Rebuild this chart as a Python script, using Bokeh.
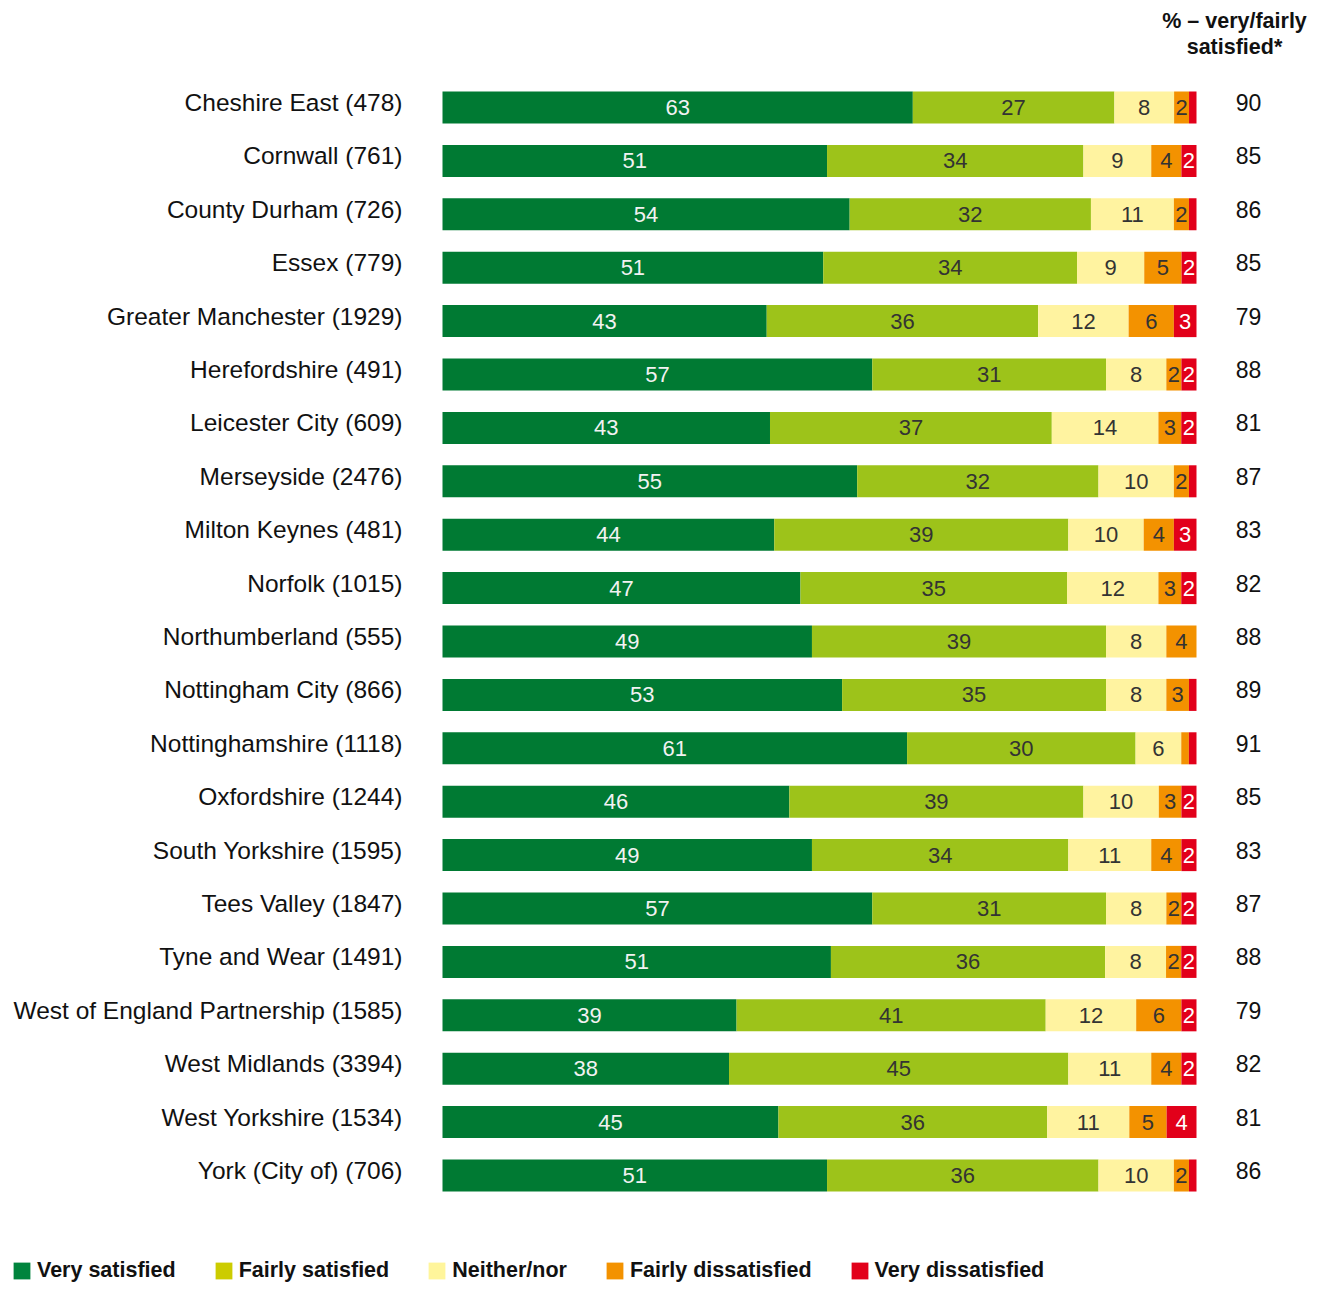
from bokeh.plotting import figure
from bokeh.models import ColumnDataSource, Range1d, Legend, LegendItem
from bokeh.core.properties import value
from bokeh.embed import file_html
from bokeh.resources import INLINE

regions = ["Cheshire East", "Cornwall", "County Durham", "Essex", "Greater Manchester",
           "Herefordshire", "Leicester City", "Merseyside", "Milton Keynes", "Norfolk",
           "Northumberland", "Nottingham City", "Nottinghamshire", "Oxfordshire",
           "South Yorkshire", "Tees Valley", "Tyne and Wear", "West of England Partnership",
           "West Midlands", "West Yorkshire", "York (City of)"]
sample = [478, 761, 726, 779, 1929, 491, 609, 2476, 481, 1015, 555, 866, 1118, 1244,
          1595, 1847, 1491, 1585, 3394, 1534, 706]
very_sat = [63, 51, 54, 51, 43, 57, 43, 55, 44, 47, 49, 53, 61, 46, 49, 57, 51, 39, 38, 45, 51]
fairly_sat = [27, 34, 32, 34, 36, 31, 37, 32, 39, 35, 39, 35, 30, 39, 34, 31, 36, 41, 45, 36, 36]
neither = [8, 9, 11, 9, 12, 8, 14, 10, 10, 12, 8, 8, 6, 10, 11, 8, 8, 12, 11, 11, 10]
fairly_dis = [2, 4, 2, 5, 6, 2, 3, 2, 4, 3, 4, 3, 1, 3, 4, 2, 2, 6, 4, 5, 2]
very_dis = [1, 2, 1, 2, 3, 2, 2, 1, 3, 2, 0, 1, 1, 2, 2, 2, 2, 2, 2, 4, 1]
total_sat = [90, 85, 86, 85, 79, 88, 81, 87, 83, 82, 88, 89, 91, 85, 83, 87, 88, 79, 82, 81, 86]

series = [very_sat, fairly_sat, neither, fairly_dis, very_dis]
series_names = ["Very satisfied", "Fairly satisfied", "Neither/nor",
                "Fairly dissatisfied", "Very dissatisfied"]
bar_colors = ["#007A33", "#9DC31A", "#FFF3A0", "#F39200", "#E2001A"]
legend_colors = ["#00843D", "#CCCC00", "#FFF59B", "#F39200", "#E2001A"]
label_colors = ["#F2F2F2", "#333333", "#333333", "#333333", "#FFFFFF"]

W, H = 1320, 1284
X0, PX = 442, 7.54      # pixel of 0 %, pixels per %
Y0, PY = 107, 53.4      # pixel of first row centre, pixels per row
p = figure(width=W, height=H, output_backend="svg", toolbar_location=None,
           x_range=Range1d(-X0 / PX, (W - X0) / PX),
           y_range=Range1d((H - Y0) / PY, -Y0 / PY),
           min_border=0, outline_line_color=None)
p.axis.visible = False
p.grid.visible = False
p.background_fill_color = "white"

n = len(regions)
rows = list(range(n))
sums = [sum(s[i] for s in series) for i in range(n)]
left = [0.0] * n
FONT = value("Liberation Sans")
for k, s in enumerate(series):
    w = [s[i] * 100.0 / sums[i] for i in range(n)]
    right = [left[i] + w[i] for i in range(n)]
    src = ColumnDataSource(dict(y=rows, left=left, right=right,
                                mid=[(left[i] + right[i]) / 2 for i in range(n)],
                                lab=[str(s[i]) if s[i] >= 2 else "" for i in range(n)]))
    p.hbar(y="y", left="left", right="right", height=0.6, source=src,
           fill_color=bar_colors[k], line_color=None)
    p.text(x="mid", y="y", text="lab", source=src, text_align="center",
           text_baseline="middle", text_font=FONT, text_font_size="22px",
           text_color=label_colors[k])
    left = right

lab_src = ColumnDataSource(dict(y=rows, x=[(402 - X0) / PX] * n,
                                t=[f"{r} ({c})" for r, c in zip(regions, sample)]))
p.text(x="x", y="y", text="t", source=lab_src, text_align="right",
       text_baseline="middle", text_font=FONT, text_font_size="24.5px",
       text_color="#111111", y_offset=-5)

tot_src = ColumnDataSource(dict(y=rows, x=[(1248 - X0) / PX] * n, t=[str(v) for v in total_sat]))
p.text(x="x", y="y", text="t", source=tot_src, text_align="center",
       text_baseline="middle", text_font=FONT, text_font_size="23px",
       text_color="#111111", y_offset=-5)

p.text(x=[(1234 - X0) / PX] * 2, y=[(20 - Y0) / PY, (46 - Y0) / PY],
       text=["% \u2013 very/fairly", "satisfied*"], text_align="center",
       text_baseline="middle", text_font=FONT, text_font_size="21.5px",
       text_font_style="bold", text_color="#111111")

items = []
for k, name in enumerate(series_names):
    # legend swatch renderer, placed outside the visible area
    r = p.quad(left=[0], right=[1], bottom=[1000], top=[1001],
               fill_color=legend_colors[k], line_color=None)
    items.append(LegendItem(label=name, renderers=[r]))
legend = Legend(items=items, orientation="horizontal", location=(11, 1),
                glyph_width=21, glyph_height=21, label_standoff=5, spacing=37,
                padding=0, margin=0, border_line_color=None,
                background_fill_alpha=0, label_text_font="Liberation Sans",
                label_text_font_size="21.5px", label_text_font_style="bold",
                label_text_color="#111111", label_height=21)
p.add_layout(legend)

open("out.html", "w").write(file_html(p, INLINE))
